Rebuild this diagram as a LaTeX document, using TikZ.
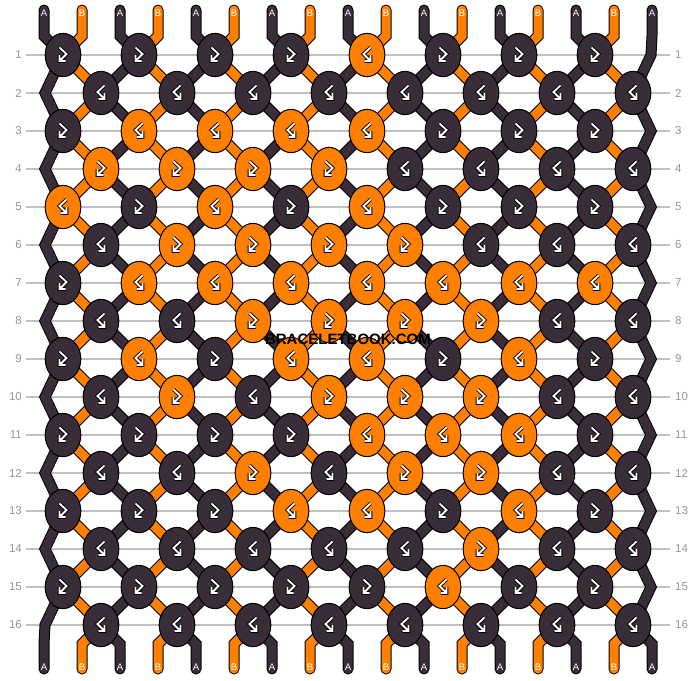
\documentclass[tikz,border=0pt]{standalone}
\usepackage{fontspec}
\setmainfont{Liberation Sans}
\usepackage{pdfrender}
\usetikzlibrary{shapes.geometric}
\definecolor{knD}{RGB}{56,45,56}
\definecolor{knO}{RGB}{255,128,0}
\definecolor{gridg}{RGB}{192,192,192}
\definecolor{numg}{RGB}{150,150,150}
\definecolor{wmfill}{RGB}{245,245,245}
\definecolor{wmedge}{RGB}{40,40,40}
\begin{document}
\begin{tikzpicture}[x=1pt,y=-1pt,
  strand/.style={line width=1pt, double distance=9pt, draw=black, line cap=round, line join=miter},
  strA/.style={strand, double=knD},
  strB/.style={strand, double=knO},
  knot/.style={ellipse, draw=black, line width=1pt, minimum width=35.7pt, minimum height=43.3pt, inner sep=0pt},
  gridline/.style={draw=gridg, line width=1.2pt},
  rownum/.style={text=numg, font=\fontsize{11.5}{13}\selectfont, inner sep=0pt},
  endlabel/.style={text=white, font=\fontsize{9.5}{10}\selectfont, inner sep=0pt},
  wmtext/.style={font=\fontsize{15}{16}\selectfont\bfseries, inner sep=0pt},
  fbmark/.pic={
    \draw[black, line width=3.6pt, line cap=butt, line join=miter]
      (-3.5,-7.5) -- (3.5,-1) -- (-3.5,6) (2.5,6) -- (-3.5,6) -- (-3.5,0);
    \draw[white, line width=1.8pt, line cap=butt, line join=miter]
      (-3.5,-7.5) -- (3.5,-1) -- (-3.5,6) (2.5,6) -- (-3.5,6) -- (-3.5,0);
  },
  bfmark/.pic={
    \draw[black, line width=3.6pt, line cap=butt, line join=miter]
      (3.5,-7.5) -- (-3.5,-1) -- (3.5,6) (-2.5,6) -- (3.5,6) -- (3.5,0);
    \draw[white, line width=1.8pt, line cap=butt, line join=miter]
      (3.5,-7.5) -- (-3.5,-1) -- (3.5,6) (-2.5,6) -- (3.5,6) -- (3.5,0);
  }
]
\useasboundingbox (0,0) rectangle (696,680);
\fill[white] (0,0) rectangle (696,680);

% row guide lines and numbers
\foreach \r in {1,...,16}{
  \pgfmathsetmacro\yy{55+38*(\r-1)}
  \draw[gridline] (26,\yy) -- (670,\yy);
  \node[rownum, anchor=east] (L\r) at (22,\yy) {\r};
  \node[rownum, anchor=west] (R\r) at (675,\yy) {\r};
}

% string positions
\foreach \i in {1,...,17}{
  \pgfmathsetmacro\xi{44+38*(\i-1)}
  \coordinate (Tt\i) at (\xi,10);
  \coordinate (T\i) at (\xi,36);
  \coordinate (B\i) at (\xi,644);
  \coordinate (Be\i) at (\xi,669);
  \foreach \r in {1,...,16}{
    \pgfmathsetmacro\yy{55+38*(\r-1)}
    \pgfmathsetmacro\off{(mod(\i+\r,2)==0) ? 19 : -19}
    \pgfmathsetmacro\off{((\i==1) && (\off<0)) ? 1 : (((\i==17) && (\off>0)) ? -1 : \off)}
    \pgfmathsetmacro\px{\xi+(\off)}
    \coordinate (P\i-\r) at (\px,\yy);
  }
}

% strings
\foreach \i in {1,3,...,17}{
  \draw[strA] (Tt\i) -- (T\i) \foreach \r in {1,...,16}{ -- (P\i-\r) } -- (B\i) -- (Be\i);
}
\foreach \i in {2,4,...,16}{
  \draw[strB] (Tt\i) -- (T\i) \foreach \r in {1,...,16}{ -- (P\i-\r) } -- (B\i) -- (Be\i);
}

% end labels
\foreach \i in {1,...,17}{
  \pgfmathsetmacro\xi{44+38*(\i-1)}
  \ifodd\i\def\lab{A}\else\def\lab{B}\fi
  \node[endlabel] (TA\i) at (\xi,13) {\lab};
  \node[endlabel] (BA\i) at (\xi,667) {\lab};
}

% knots
\foreach \pat [count=\r] in {
  {0,0,0,0,1,0,0,0},
  {0,0,0,0,0,0,0,0},
  {0,1,1,1,1,0,0,0},
  {1,1,1,1,0,0,0,0},
  {1,0,1,0,1,0,0,0},
  {0,1,1,1,1,0,0,0},
  {0,1,1,1,1,1,1,1},
  {0,0,1,1,1,1,0,0},
  {0,1,0,1,1,0,1,0},
  {0,1,0,1,1,1,0,0},
  {0,0,0,0,1,1,1,0},
  {0,0,1,0,1,1,0,0},
  {0,0,0,1,1,0,1,0},
  {0,0,0,0,0,1,0,0},
  {0,0,0,0,0,1,0,0},
  {0,0,0,0,0,0,0,0}}{
  \foreach \c [count=\k] in \pat {
    \pgfmathsetmacro\yy{55+38*(\r-1)}
    \pgfmathsetmacro\kx{((mod(\r,2)==1) ? 63 : 101) + 76*(\k-1)}
    \pgfmathtruncatemacro\isfb{mod(\c+\r,2)}
    \ifnum\c=1 \def\kcol{knO}\else\def\kcol{knD}\fi
    \node[knot, fill=\kcol] (K\r-\k) at (\kx,\yy) {};
    \ifnum\isfb=1
      \pic at (K\r-\k) {fbmark};
    \else
      \pic at (K\r-\k) {bfmark};
    \fi
  }
}

% watermark
\node[wmtext] (wm) at (348,339) {\textpdfrender{TextRenderingMode=FillStroke, LineWidth=0.6pt, StrokeColor=wmedge, FillColor=wmfill, LineJoin=1}{BRACELETBOOK.COM}};
\end{tikzpicture}
\end{document}
